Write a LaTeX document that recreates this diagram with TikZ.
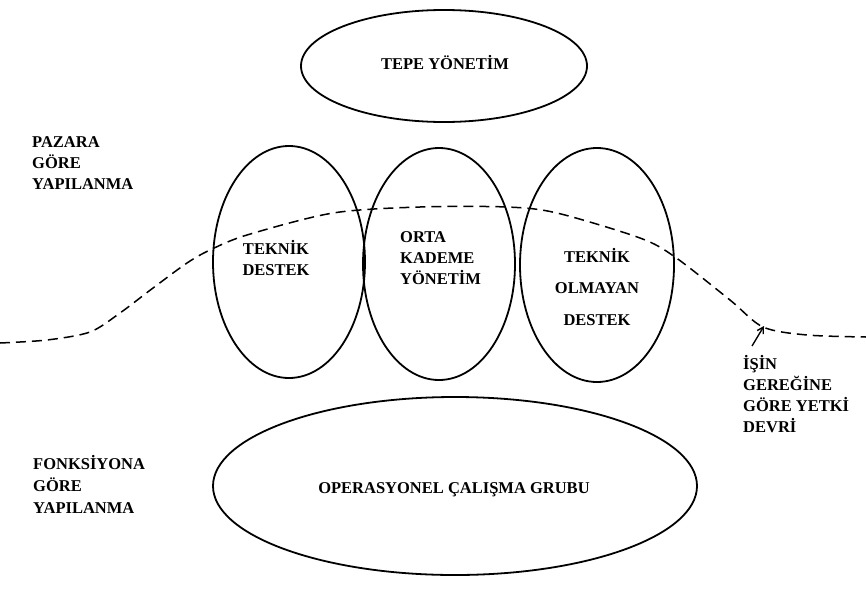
\documentclass[tikz,border=0pt]{standalone}
\usepackage{fontspec}
\setmainfont{Liberation Serif}
\usetikzlibrary{arrows.meta}
\begin{document}
\begin{tikzpicture}[x=1pt,y=-1pt,
  oval/.style={draw=black, line width=1.8pt},
  lbl/.style={font=\bfseries\fontsize{16.5}{21}\selectfont, align=center, inner sep=0pt},
  side/.style={font=\bfseries\fontsize{16.5}{21}\selectfont, align=left, anchor=west, inner sep=0pt}]
\useasboundingbox (0,0) rectangle (866,589);
% ellipses
\draw[oval] (444,66) ellipse [x radius=143, y radius=56];
\draw[oval] (289,262) ellipse [x radius=76, y radius=116];
\draw[oval] (439,264) ellipse [x radius=76, y radius=116];
\draw[oval] (597,265) ellipse [x radius=77, y radius=117];
\draw[oval] (455,486) ellipse [x radius=242, y radius=89];
% texts
\node[lbl] (tepe) at (445,63) {TEPE YÖNETİM};
\node[lbl] (td) at (276,258) {TEKNİK\\DESTEK};
\node[lbl, align=left, anchor=west] (orta) at (400,258) {ORTA\\KADEME\\YÖNETİM};
\node[lbl, font=\bfseries\fontsize{16.5}{31.5}\selectfont] (tod) at (597,287) {TEKNİK\\OLMAYAN\\DESTEK};
\node[lbl] (ops) at (454,490) {OPERASYONEL ÇALIŞMA GRUBU};
\node[side] (pazara) at (32,163) {PAZARA\\GÖRE\\YAPILANMA};
\node[side, font=\bfseries\fontsize{16.5}{22}\selectfont] (fonk) at (33,484) {FONKSİYONA\\GÖRE\\YAPILANMA};
\node[side] (isin) at (743,394) {İŞİN\\GEREĞİNE\\GÖRE YETKİ\\DEVRİ};
% dashed boundary
\draw[line width=1.5pt, dash pattern=on 10pt off 6pt] plot[smooth, tension=0.5] coordinates {
  (0,343) (47,340) (90,332) (120,313) (153,288) (187,263) (210,250) (247,235)
  (333,213) (420,207) (507,207) (557,213) (640,238) (675,257) (730,300)
  (763,327) (807,335) (866,337)};
\coordinate (tip) at (764,326);
\coordinate (tail) at (752,346);
\draw[line width=1.4pt, -{Straight Barb[length=6pt,width=7pt]}] (tail) -- (tip);
\end{tikzpicture}
\end{document}
